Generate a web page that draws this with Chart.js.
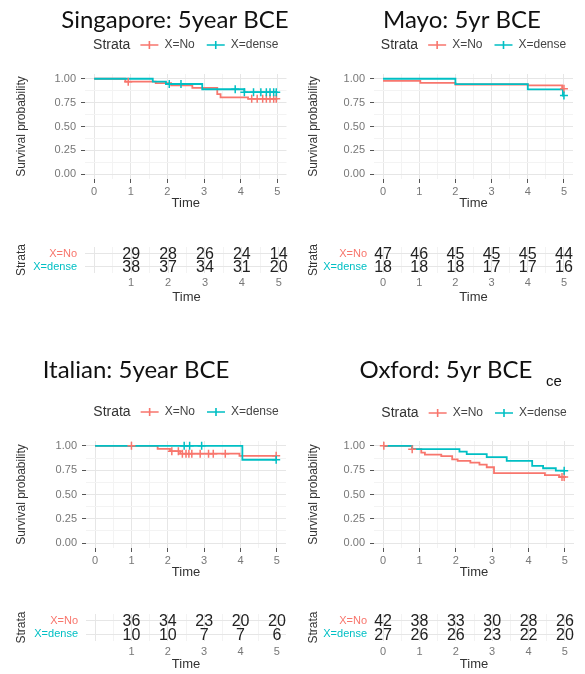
<!DOCTYPE html>
<html>
<head>
<meta charset="utf-8">
<title>5 year BCE survival by strata</title>
<script src="https://cdn.jsdelivr.net/npm/chart.js@4.4.1/dist/chart.umd.min.js"></script>
<style>
  html, body { margin:0; padding:0; background:#fff; overflow:hidden; }
  #page { position:relative; width:585px; height:674px; background:#fff; }
  #page canvas { position:absolute; }
</style>
</head>
<body>
<div id="page">
  <canvas id="kmSg" width="292" height="215" style="left:0;top:0"></canvas>
  <canvas id="riskSg" width="292" height="85" style="left:0;top:225px"></canvas>
  <canvas id="kmMy" width="293" height="215" style="left:292px;top:0"></canvas>
  <canvas id="riskMy" width="293" height="85" style="left:292px;top:225px"></canvas>
  <canvas id="kmIt" width="292" height="234" style="left:0;top:350px"></canvas>
  <canvas id="riskIt" width="292" height="84" style="left:0;top:590px"></canvas>
  <canvas id="kmOx" width="293" height="234" style="left:292px;top:350px"></canvas>
  <canvas id="riskOx" width="293" height="84" style="left:292px;top:590px"></canvas>
</div>
<script>
/* =====================================
   DATA
===================================== */

const strata = ["X=No", "X=dense"];
const timeTicks = [0, 1, 2, 3, 4, 5];
const survTicks = [0, 0.25, 0.5, 0.75, 1];

/* Singapore */
const sgNoTime = [0, 0.85, 1.68, 2.1, 2.68, 3.36, 3.45, 4.2, 5];
const sgNoSurv = [1, 0.97, 0.955, 0.93, 0.905, 0.84, 0.805, 0.79, 0.79];
const sgNoCensor = [0.93, 4.3, 4.45, 4.6, 4.7, 4.8, 4.9, 4.97];
const sgDenseTime = [0, 1.6, 1.96, 2.95, 4.1, 5];
const sgDenseSurv = [1, 0.97, 0.945, 0.89, 0.86, 0.86];
const sgDenseCensor = [2.05, 2.37, 3.85, 4.1, 4.35, 4.55, 4.7, 4.8, 4.9, 4.97];
const sgRiskTime = [1, 2, 3, 4, 5];
const sgRiskNo = [29, 28, 26, 24, 14];
const sgRiskDense = [38, 37, 34, 31, 20];

/* Mayo */
const myNoTime = [0, 1.03, 2.0, 4.0, 4.95, 5];
const myNoSurv = [0.979, 0.957, 0.94, 0.93, 0.895, 0.895];
const myNoCensor = [5];
const myDenseTime = [0, 2.0, 4.0, 4.97, 5];
const myDenseSurv = [1, 0.944, 0.889, 0.825, 0.825];
const myDenseCensor = [5];
const myRiskTime = [0, 1, 2, 3, 4, 5];
const myRiskNo = [47, 46, 45, 45, 45, 44];
const myRiskDense = [18, 18, 18, 17, 17, 16];

/* Italian */
const itNoTime = [0, 1.72, 2.06, 2.34, 3.97, 5];
const itNoSurv = [1, 0.97, 0.945, 0.92, 0.898, 0.898];
const itNoCensor = [1.0, 2.11, 2.29, 2.4, 2.5, 2.58, 2.66, 2.89, 3.12, 3.25, 3.58, 4.98];
const itDenseTime = [0, 4.05, 5];
const itDenseSurv = [1, 0.857, 0.857];
const itDenseCensor = [2.45, 2.6, 2.93, 4.98];
const itRiskTime = [1, 2, 3, 4, 5];
const itRiskNo = [36, 34, 23, 20, 20];
const itRiskDense = [10, 10, 7, 7, 6];

/* Oxford */
const oxNoTime = [0, 0.8, 1.05, 1.15, 1.6, 1.9, 2.05, 2.4, 2.65, 2.85, 3.05, 4.45, 4.85, 5];
const oxNoSurv = [1, 0.966, 0.93, 0.91, 0.895, 0.862, 0.845, 0.828, 0.808, 0.78, 0.72, 0.70, 0.68, 0.68];
const oxNoCensor = [0.02, 0.8, 4.92, 4.98];
const oxDenseTime = [0, 0.8, 2.1, 2.3, 2.85, 3.4, 4.1, 4.4, 4.75, 5];
const oxDenseSurv = [1, 0.966, 0.94, 0.915, 0.885, 0.845, 0.795, 0.77, 0.745, 0.745];
const oxDenseCensor = [4.98];
const oxRiskTime = [0, 1, 2, 3, 4, 5];
const oxRiskNo = [42, 38, 33, 30, 28, 26];
const oxRiskDense = [27, 26, 26, 23, 22, 20];

/* =====================================
   STYLE
===================================== */

const RED = "#F8766D";
const CYAN = "#00BFC4";
const GRID_MAJOR = "#e6e6e6";
const GRID_MINOR = "#f3f3f3";
const FONT = '"Liberation Sans", Arial, sans-serif';

Chart.defaults.font.family = FONT;
Chart.defaults.color = "#666";

// major ticks plus the midpoints between them (ggplot minor grid)
function withMinor(ticks){
    const out = [];
    ticks.forEach((v, i) => {
        out.push(v);
        if(i < ticks.length - 1) out.push((v + ticks[i + 1]) / 2);
    });
    return out;
}

const isIn = (arr, v) => arr.some(a => Math.abs(a - v) < 1e-9);

function stepPoints(times, surv){
    return times.map((t, i) => ({ x: t, y: surv[i] }));
}

function survAt(times, surv, t){
    let s = surv[0];
    times.forEach((tt, i) => { if(tt <= t) s = surv[i]; });
    return s;
}

function censorPoints(times, surv, cens){
    return cens.map(t => ({ x: t, y: survAt(times, surv, t) }));
}

/* =====================================
   PLUGINS
===================================== */

const headerPlugin = {
    id: "header",
    afterDraw(chart, args, o){
        const ctx = chart.ctx;
        const area = chart.chartArea;
        ctx.save();

        ctx.fillStyle = "#111";
        ctx.font = "24px Lato";
        ctx.textAlign = "center";
        ctx.textBaseline = "alphabetic";
        ctx.fillText(o.title, o.titleX, o.titleY);

        if(o.sub){
            ctx.font = "15px " + FONT;
            ctx.textAlign = "left";
            ctx.fillText(o.sub, o.subX, o.subY);
        }

        // legend: Strata  -+- X=No  -+- X=dense
        const sym = 18;
        ctx.textBaseline = "middle";
        ctx.textAlign = "left";
        ctx.font = "14px " + FONT;
        const wTitle = ctx.measureText("Strata").width;
        ctx.font = "12px " + FONT;
        const wLab = strata.map(s => ctx.measureText(s).width);
        const total = wTitle + 10 + (sym + 6) * 2 + wLab[0] + 12 + wLab[1];
        let x = (area.left + area.right) / 2 - total / 2;
        const y = o.legendY;

        ctx.fillStyle = "#333";
        ctx.font = "14px " + FONT;
        ctx.fillText("Strata", x, y);
        x += wTitle + 10;

        [RED, CYAN].forEach((col, i) => {
            ctx.strokeStyle = col;
            ctx.lineWidth = 1.6;
            ctx.beginPath();
            ctx.moveTo(x, y); ctx.lineTo(x + sym, y);
            ctx.moveTo(x + sym / 2, y - 4); ctx.lineTo(x + sym / 2, y + 4);
            ctx.stroke();
            x += sym + 6;
            ctx.fillStyle = "#444";
            ctx.font = "12px " + FONT;
            ctx.fillText(strata[i], x, y);
            x += wLab[i] + 12;
        });

        ctx.restore();
    }
};

const riskTextPlugin = {
    id: "riskText",
    afterDatasetsDraw(chart){
        const ctx = chart.ctx;
        ctx.save();
        ctx.font = "16px " + FONT;
        ctx.fillStyle = "#222";
        ctx.textAlign = "center";
        ctx.textBaseline = "middle";
        chart.data.datasets.forEach((ds, i) => {
            chart.getDatasetMeta(i).data.forEach((pt, j) => {
                ctx.fillText(String(ds.data[j].n), pt.x, pt.y + 1);
            });
        });
        ctx.restore();
    }
};

/* =====================================
   AXES
===================================== */

function timeAxis(L, labelled, drawTicks, padTick, padTitle){
    const grid = withMinor(timeTicks);
    return {
        type: "linear",
        min: -0.25,
        max: 5.25,
        afterBuildTicks: s => { s.ticks = grid.map(v => ({ value: v })); },
        afterFit: s => { s.height = L.h - L.bottom; },
        ticks: {
            autoSkip: false,
            maxRotation: 0,
            padding: padTick,
            color: "#777",
            font: { size: 11 },
            callback: v => isIn(labelled, v) ? String(v) : ""
        },
        grid: {
            color: c => isIn(timeTicks, c.tick.value) ? GRID_MAJOR : GRID_MINOR,
            tickColor: c => isIn(timeTicks, c.tick.value) ? "#555" : "transparent",
            tickLength: 4,
            drawTicks: drawTicks
        },
        border: { display: false },
        title: {
            display: true,
            text: "Time",
            color: "#333",
            font: { size: 13 },
            padding: { top: 0, bottom: padTitle }
        }
    };
}

/* =====================================
   KAPLAN-MEIER PANEL
===================================== */

function kmChart(id, d, L, head){

    const survGrid = withMinor(survTicks);

    new Chart(document.getElementById(id), {

        type: "line",

        data: {
            datasets: [
                {
                    label: "X=No",
                    data: stepPoints(d.noTime, d.noSurv),
                    borderColor: RED,
                    borderWidth: 1.8,
                    stepped: "before",
                    pointRadius: 0,
                    order: 4
                },
                {
                    label: "X=dense",
                    data: stepPoints(d.denseTime, d.denseSurv),
                    borderColor: CYAN,
                    borderWidth: 1.8,
                    stepped: "before",
                    pointRadius: 0,
                    order: 3
                },
                {
                    label: "X=No censored",
                    data: censorPoints(d.noTime, d.noSurv, d.noCens),
                    showLine: false,
                    pointStyle: "cross",
                    pointRadius: 4,
                    borderColor: RED,
                    borderWidth: 1.5,
                    order: 2
                },
                {
                    label: "X=dense censored",
                    data: censorPoints(d.denseTime, d.denseSurv, d.denseCens),
                    showLine: false,
                    pointStyle: "cross",
                    pointRadius: 4,
                    borderColor: CYAN,
                    borderWidth: 1.5,
                    order: 1
                }
            ]
        },

        options: {
            responsive: false,
            animation: false,
            layout: { padding: { left: 10, top: L.top, right: L.w - L.right, bottom: 0 } },
            plugins: {
                legend: { display: false },
                tooltip: { enabled: false },
                header: head
            },
            scales: {
                x: timeAxis(L, timeTicks, true, 2, L.titlePad),
                y: {
                    type: "linear",
                    min: -0.05,
                    max: 1.05,
                    afterBuildTicks: s => { s.ticks = survGrid.map(v => ({ value: v })); },
                    afterFit: s => { s.width = L.left - 10; },
                    ticks: {
                        autoSkip: false,
                        padding: 5,
                        color: "#777",
                        font: { size: 11 },
                        callback: v => isIn(survTicks, v) ? v.toFixed(2) : ""
                    },
                    grid: {
                        color: c => isIn(survTicks, c.tick.value) ? GRID_MAJOR : GRID_MINOR,
                        tickColor: c => isIn(survTicks, c.tick.value) ? "#555" : "transparent",
                        tickLength: 4
                    },
                    border: { display: false },
                    title: {
                        display: true,
                        text: "Survival probability",
                        color: "#333",
                        font: { size: 12 },
                        padding: { top: 4, bottom: 0 }
                    }
                }
            }
        },

        plugins: [headerPlugin]
    });
}

/* =====================================
   RISK TABLE
===================================== */

function riskChart(id, times, no, dense, L){

    new Chart(document.getElementById(id), {

        type: "scatter",

        data: {
            datasets: [
                { label: strata[0], data: times.map((t, i) => ({ x: t, y: strata[0], n: no[i] })) },
                { label: strata[1], data: times.map((t, i) => ({ x: t, y: strata[1], n: dense[i] })) }
            ]
        },

        options: {
            responsive: false,
            animation: false,
            elements: { point: { radius: 0, hoverRadius: 0 } },
            layout: { padding: { left: 10, top: L.top, right: L.w - L.right, bottom: 0 } },
            plugins: {
                legend: { display: false },
                tooltip: { enabled: false }
            },
            scales: {
                x: timeAxis(L, times, false, L.tickPad, L.titlePad),
                y: {
                    type: "category",
                    labels: strata,
                    offset: true,
                    afterFit: s => { s.width = L.left - 10; },
                    ticks: {
                        autoSkip: false,
                        padding: L.labelPad,
                        color: c => [RED, CYAN][c.index],
                        font: { size: 11 }
                    },
                    grid: { color: GRID_MAJOR, offset: false, drawTicks: false },
                    border: { display: false },
                    title: {
                        display: true,
                        text: "Strata",
                        color: "#333",
                        font: { size: 12 },
                        padding: { top: 4, bottom: 0 }
                    }
                }
            }
        },

        plugins: [riskTextPlugin]
    });
}

/* =====================================
   BUILD
===================================== */

kmChart("kmSg",
    { noTime: sgNoTime, noSurv: sgNoSurv, noCens: sgNoCensor,
      denseTime: sgDenseTime, denseSurv: sgDenseSurv, denseCens: sgDenseCensor },
    { w: 292, h: 215, left: 85, right: 288, top: 74, bottom: 179, titlePad: 4 },
    { title: "Singapore: 5year BCE", titleX: 175, titleY: 28, legendY: 45 });

riskChart("riskSg", sgRiskTime, sgRiskNo, sgRiskDense,
    { w: 292, h: 85, left: 85, right: 288, top: 22, bottom: 48, tickPad: 3, titlePad: 5, labelPad: 8 });

kmChart("kmMy",
    { noTime: myNoTime, noSurv: myNoSurv, noCens: myNoCensor,
      denseTime: myDenseTime, denseSurv: myDenseSurv, denseCens: myDenseCensor },
    { w: 293, h: 215, left: 82, right: 281, top: 74, bottom: 179, titlePad: 4 },
    { title: "Mayo: 5yr BCE", titleX: 170, titleY: 28, legendY: 45 });

riskChart("riskMy", myRiskTime, myRiskNo, myRiskDense,
    { w: 293, h: 85, left: 82, right: 281, top: 22, bottom: 48, tickPad: 3, titlePad: 5, labelPad: 7 });

kmChart("kmIt",
    { noTime: itNoTime, noSurv: itNoSurv, noCens: itNoCensor,
      denseTime: itDenseTime, denseSurv: itDenseSurv, denseCens: itDenseCensor },
    { w: 292, h: 234, left: 86, right: 286, top: 91, bottom: 198, titlePad: 4 },
    { title: "Italian: 5year BCE", titleX: 136, titleY: 28, legendY: 62 });

riskChart("riskIt", itRiskTime, itRiskNo, itRiskDense,
    { w: 292, h: 84, left: 86, right: 286, top: 24, bottom: 51, tickPad: 4, titlePad: 2, labelPad: 8 });

kmChart("kmOx",
    { noTime: oxNoTime, noSurv: oxNoSurv, noCens: oxNoCensor,
      denseTime: oxDenseTime, denseSurv: oxDenseSurv, denseCens: oxDenseCensor },
    { w: 293, h: 234, left: 82, right: 282, top: 91, bottom: 198, titlePad: 4 },
    { title: "Oxford: 5yr BCE", titleX: 154, titleY: 28, legendY: 63, sub: "ce", subX: 254, subY: 36 });

riskChart("riskOx", oxRiskTime, oxRiskNo, oxRiskDense,
    { w: 293, h: 84, left: 82, right: 282, top: 24, bottom: 51, tickPad: 4, titlePad: 2, labelPad: 7 });
</script>
</body>
</html>
